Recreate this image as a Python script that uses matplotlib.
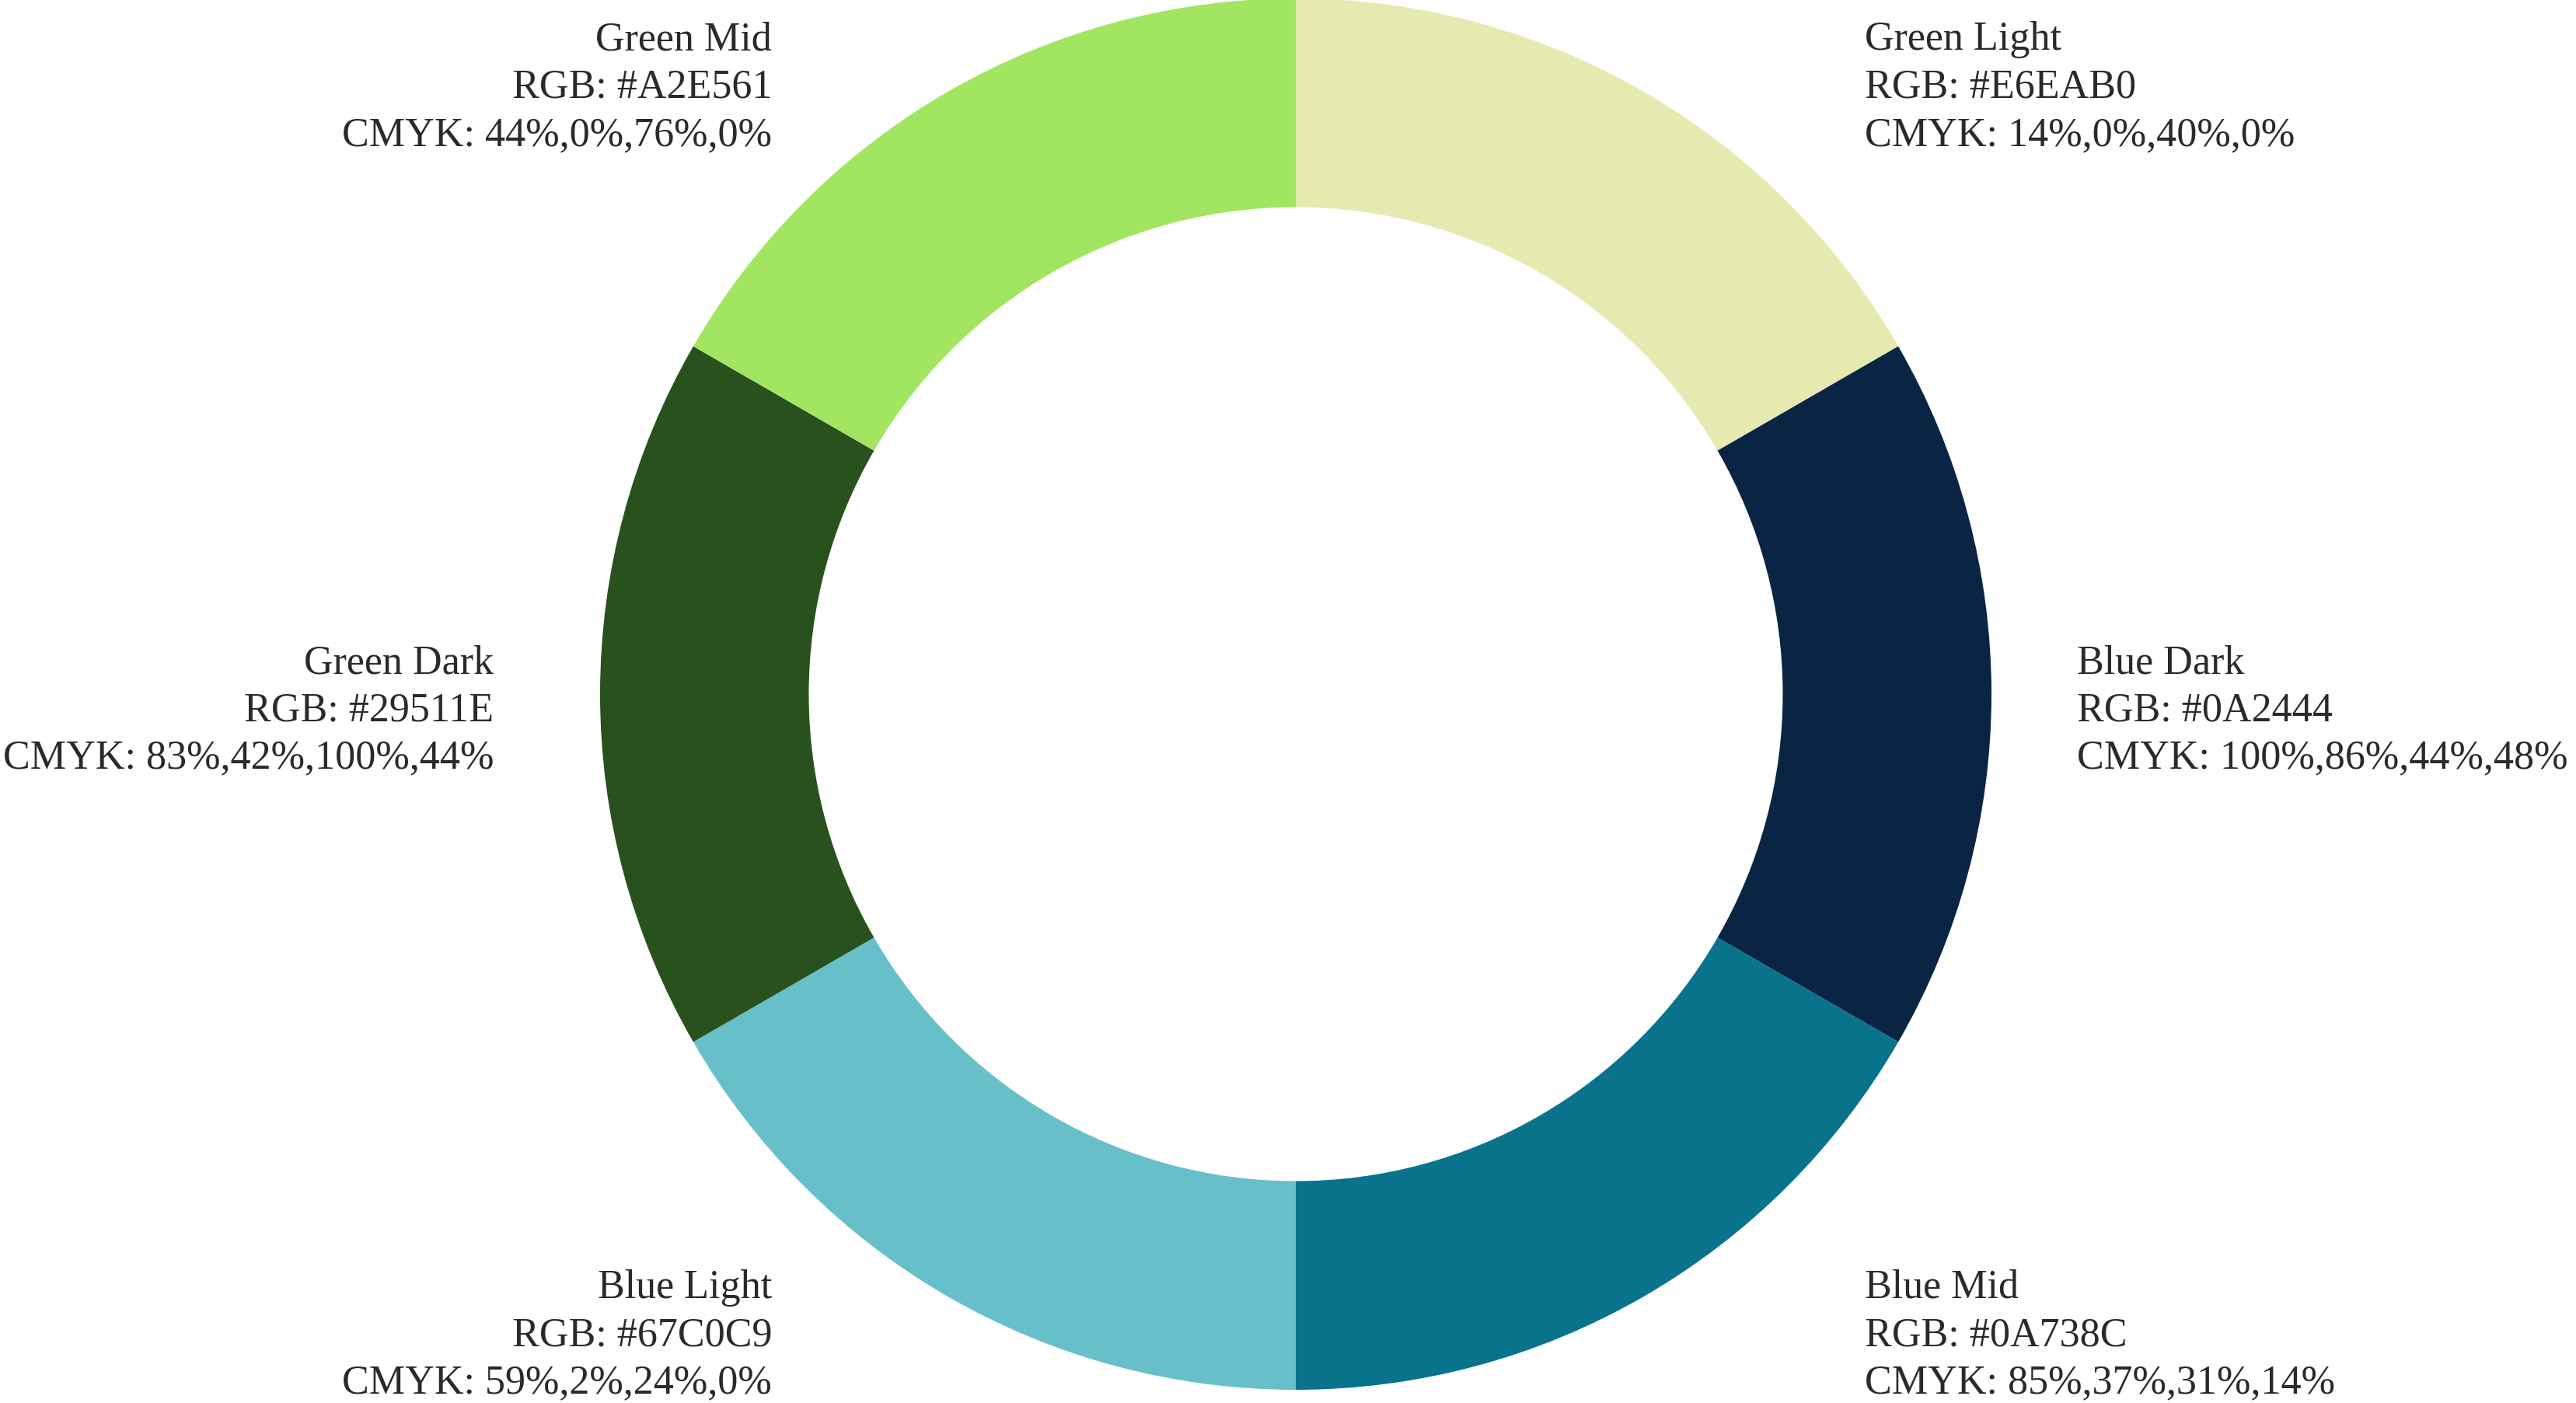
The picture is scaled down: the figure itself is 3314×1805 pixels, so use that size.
import numpy as np
import matplotlib.pyplot as plt

# colour swatches, clockwise from 12 o'clock
names = ['Green Light', 'Blue Dark', 'Blue Mid', 'Blue Light', 'Green Dark', 'Green Mid']
rgb = ['#E6EAB0', '#0A2444', '#0A738C', '#67C0C9', '#29511E', '#A2E561']
cmyk = ['14%,0%,40%,0%', '100%,86%,44%,48%', '85%,37%,31%,14%',
        '59%,2%,24%,0%', '83%,42%,100%,44%', '44%,0%,76%,0%']
shares = [1, 1, 1, 1, 1, 1]

# label anchors (in units of the outer radius) and alignment
label_pos = [(0.818, 0.872), (1.123, -0.024), (0.818, -0.922),
             (-0.753, -0.922), (-1.153, -0.024), (-0.753, 0.872)]
label_ha = ['left', 'left', 'left', 'right', 'right', 'right']

W, H = 3314, 1805
cx, cy, R = 1667, 893, 895

fig = plt.figure(figsize=(W / 100, H / 100), dpi=100)
ax = fig.add_axes([0, 0, 1, 1])
ax.pie(shares, colors=rgb, startangle=90, counterclock=False, radius=1,
       wedgeprops=dict(width=0.30, linewidth=0))
ax.set_xlim(-cx / R, (W - cx) / R)
ax.set_ylim(-(H - cy) / R, cy / R)
ax.set_aspect('auto')
ax.axis('off')

for name, col, ck, (x, y), ha in zip(names, rgb, cmyk, label_pos, label_ha):
    txt = f'{name}\nRGB: {col}\nCMYK: {ck}'
    ax.text(x, y, txt, ha=ha, va='center', multialignment=ha,
            fontsize=37.5, family='Liberation Serif', color='#2a2a2a',
            linespacing=1.36)

fig.savefig('out.png', dpi=100, facecolor='white')
